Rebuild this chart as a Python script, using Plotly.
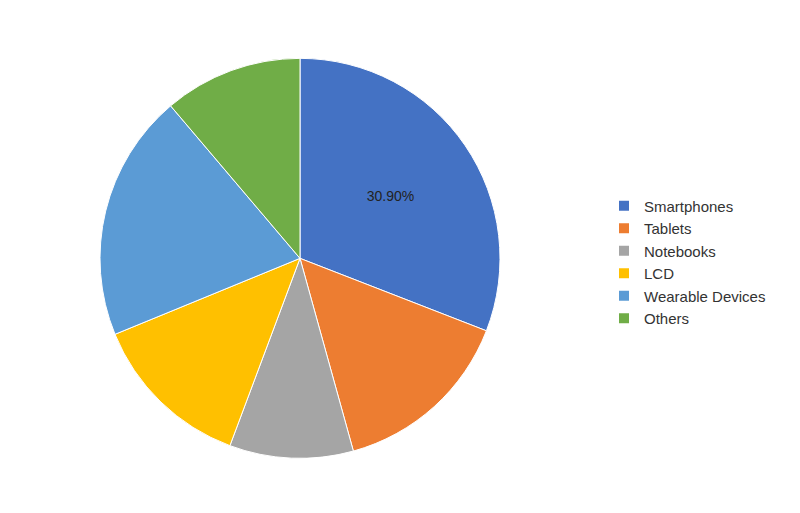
import plotly.graph_objects as go

segments = ["Smartphones", "Tablets", "Notebooks", "LCD", "Wearable Devices", "Others"]
shares = [30.9, 14.8, 10.0, 13.1, 20.0, 11.2]
shown_labels = ["30.90%", "", "", "", "", ""]
colors = ["#4472C4", "#ED7D31", "#A5A5A5", "#FFC000", "#5B9BD5", "#70AD47"]

fig = go.Figure(go.Pie(
    labels=segments,
    values=shares,
    text=shown_labels,
    textinfo="text",
    textposition="inside",
    insidetextorientation="horizontal",
    textfont=dict(color="#222222", size=14),
    marker=dict(colors=colors, line=dict(color="white", width=1)),
    sort=False,
    direction="clockwise",
    rotation=0,
    domain=dict(x=[0.115, 0.615], y=[0.122, 0.902]),
))

fig.update_layout(
    width=800, height=513,
    margin=dict(l=0, r=0, t=0, b=0),
    paper_bgcolor="white",
    font=dict(family="Liberation Sans, Arial", size=15, color="#333333"),
    legend=dict(x=0.745, y=0.505, yanchor="middle", xanchor="left",
                itemsizing="constant", font=dict(size=15)),
)

fig.write_html("out.html")
